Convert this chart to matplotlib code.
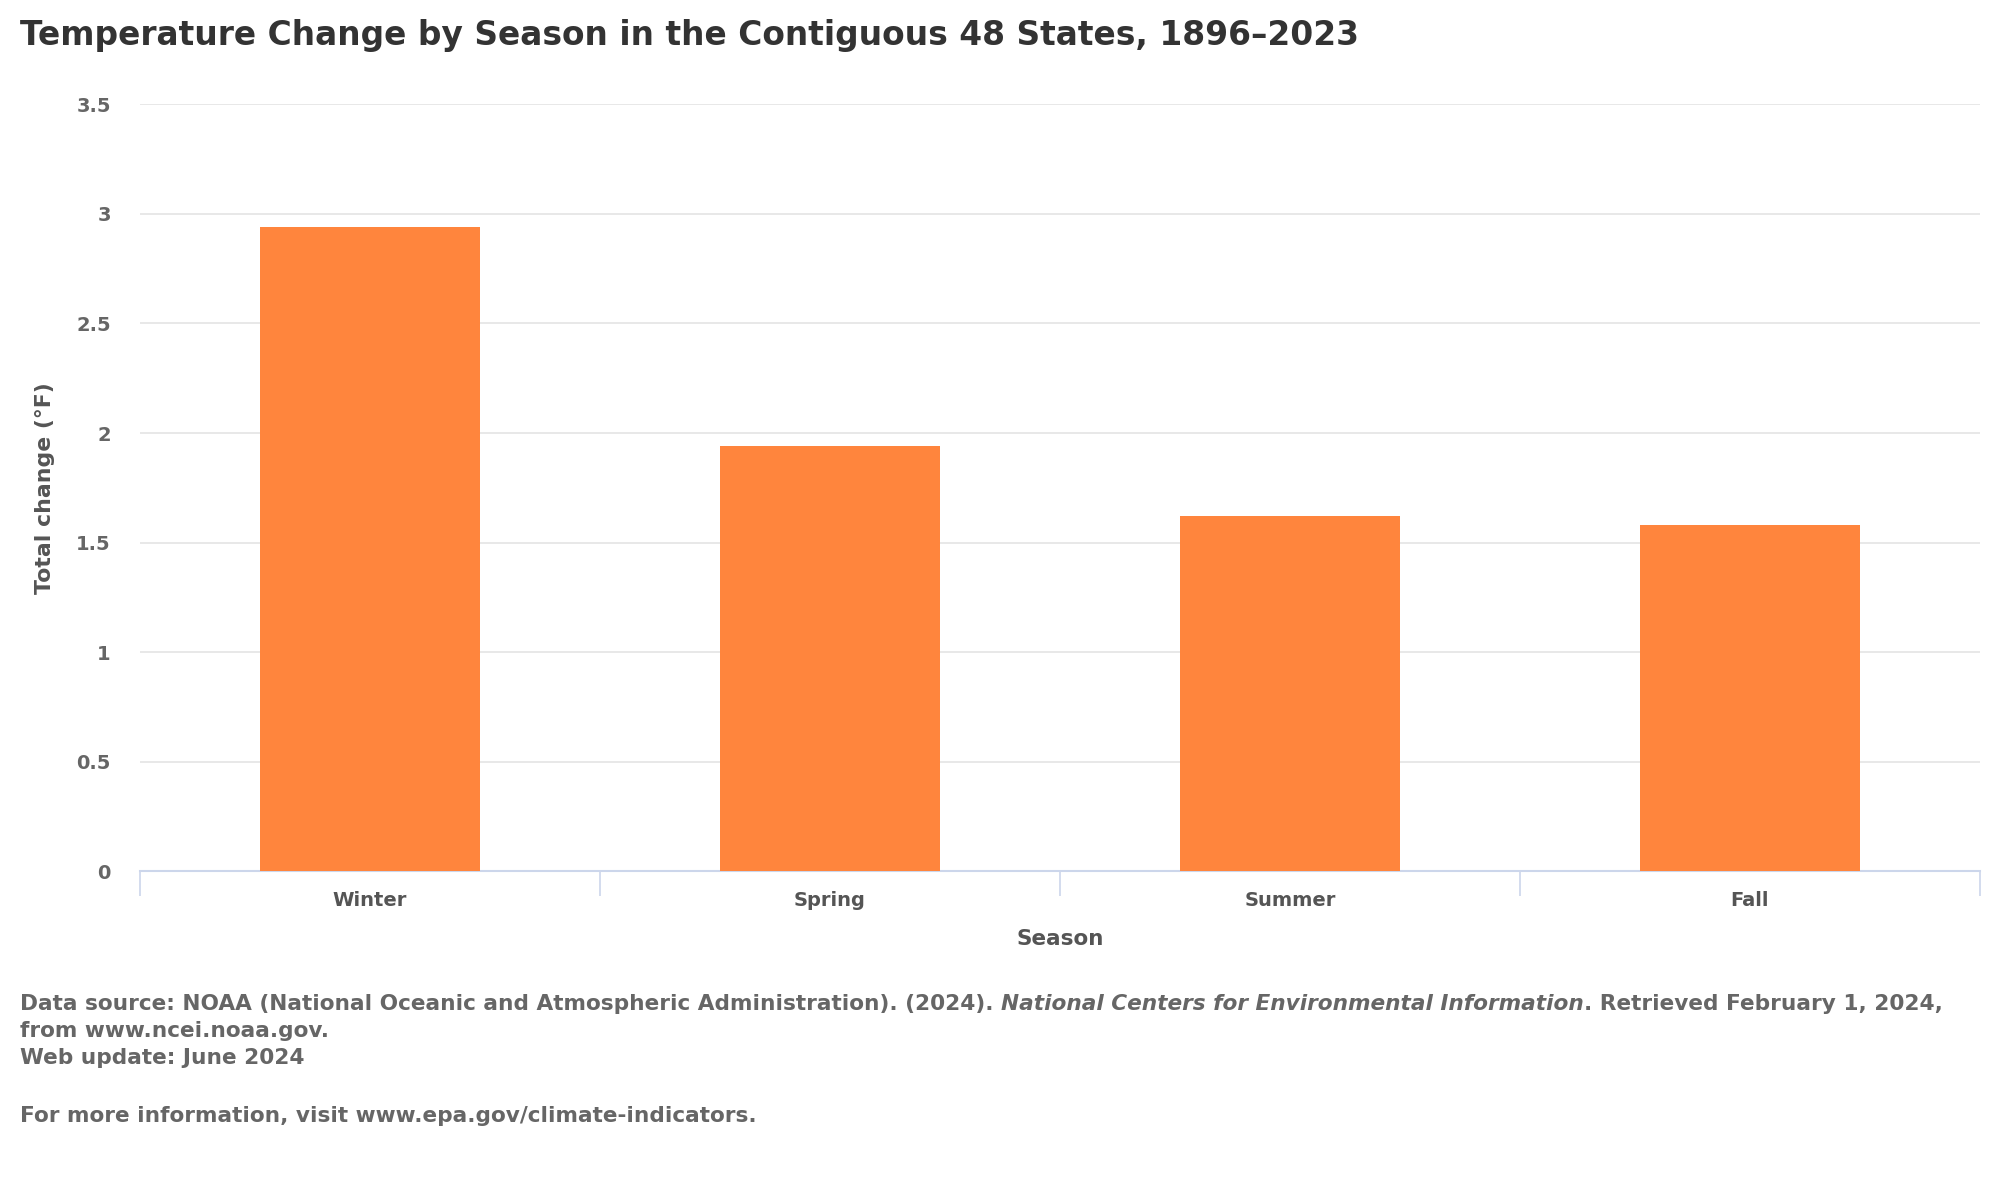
import matplotlib.pyplot as plt
import numpy as np

seasons = ["Winter", "Spring", "Summer", "Fall"]
change = [2.94, 1.94, 1.62, 1.58]
yticks = [0, 0.5, 1, 1.5, 2, 2.5, 3, 3.5]

plt.rcParams['font.family'] = ['DejaVu Sans']

fig = plt.figure(figsize=(20, 12), dpi=100)
ax = fig.add_axes([0.07, 0.274, 0.92, 0.639])

x = np.arange(len(seasons))
ax.bar(x, change, width=0.48, color='#ff853d', zorder=3)

ax.set_xlim(-0.5, len(seasons) - 0.5)
ax.set_ylim(0, 3.5)
ax.set_yticks(yticks)
ax.set_yticklabels([f"{t:g}" for t in yticks])
ax.grid(axis='y', color='#e6e6e6', linewidth=1.3, zorder=0)

# category labels in the middle, tick marks between categories
ax.set_xticks(x)
ax.set_xticklabels(seasons)
ax.set_xticks(np.arange(-0.5, len(seasons)), minor=True)
ax.tick_params(axis='x', which='major', length=0, pad=14, labelsize=14,
               labelcolor='#555555')
ax.tick_params(axis='x', which='minor', length=18, width=1.2, color='#ccd6eb')
ax.tick_params(axis='y', length=0, pad=21, labelsize=14, labelcolor='#666666')
for lab in ax.get_xticklabels() + ax.get_yticklabels():
    lab.set_fontweight('bold')

for s in ['top', 'right', 'left']:
    ax.spines[s].set_visible(False)
ax.spines['bottom'].set_color('#ccd6eb')
ax.spines['bottom'].set_linewidth(1.5)

ax.set_xlabel("Season", fontsize=15.5, color='#555555', fontweight='bold',
              labelpad=14)
ax.set_ylabel("Total change (°F)", fontsize=15.8, color='#555555',
              fontweight='bold', labelpad=15)

fig.text(0.01, 0.97, "Temperature Change by Season in the Contiguous 48 States, 1896\u20132023",
         fontsize=23.7, fontweight='bold', color='#333333', va='center')

# footer
foot_color = '#666666'
fs = 15.6
line1 = fig.text(0.01, 0.163, "Data source: NOAA (National Oceanic and Atmospheric Administration). (2024). ",
                 fontsize=fs, color=foot_color, fontweight='bold', va='center')
fig.canvas.draw()
x1 = line1.get_window_extent().x1 / fig.bbox.width
it = fig.text(x1, 0.163, "National Centers for Environmental Information",
              fontsize=fs, color=foot_color, fontweight='bold', style='italic', va='center')
fig.canvas.draw()
x2 = it.get_window_extent().x1 / fig.bbox.width
fig.text(x2, 0.163, ". Retrieved February 1, 2024,", fontsize=fs, color=foot_color,
         fontweight='bold', va='center')
fig.text(0.01, 0.141, "from www.ncei.noaa.gov.", fontsize=fs, color=foot_color,
         fontweight='bold', va='center')
fig.text(0.01, 0.118, "Web update: June 2024", fontsize=fs, color=foot_color,
         fontweight='bold', va='center')
fig.text(0.01, 0.070, "For more information, visit www.epa.gov/climate-indicators.",
         fontsize=fs, color=foot_color, fontweight='bold', va='center')

fig.savefig("out.png", dpi=100, facecolor='white')
